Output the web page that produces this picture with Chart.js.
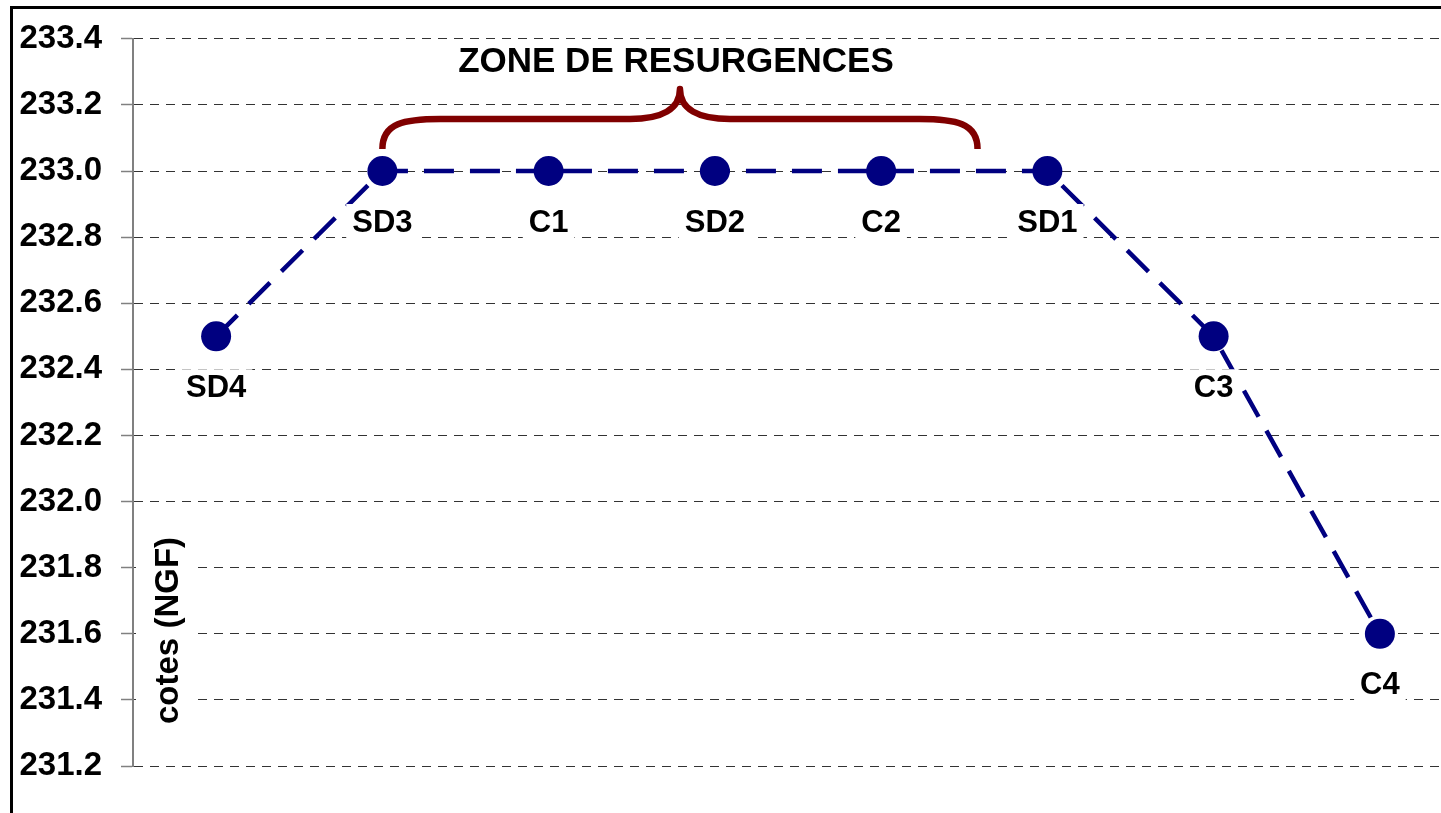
<!DOCTYPE html>
<html>
<head>
<meta charset="utf-8">
<script src="https://cdn.jsdelivr.net/npm/chart.js@4/dist/chart.umd.min.js"></script>
<style>
  html, body { margin: 0; padding: 0; background: #fff; overflow: hidden; }
  #wrap { position: relative; width: 1480px; height: 813px; }
</style>
</head>
<body>
<div id="wrap"><canvas id="c"></canvas></div>
<script>
const categories = ['SD4', 'SD3', 'C1', 'SD2', 'C2', 'SD1', 'C3', 'C4'];
const cotes = [232.5, 233.0, 233.0, 233.0, 233.0, 233.0, 232.5, 231.6];
const yTicks = [231.2, 231.4, 231.6, 231.8, 232.0, 232.2, 232.4, 232.6, 232.8, 233.0, 233.2, 233.4];
const zoneTitle = 'ZONE DE RESURGENCES';
const axisTitle = 'cotes (NGF)';
const braceFrom = 1;      // category index where the brace starts (SD3)
const braceTo = 4.58;     // category position where the brace ends (between C2 and SD1)

const FONT = '"Liberation Sans", Arial, sans-serif';

const decorPlugin = {
  id: 'decor',
  afterDatasetsDraw(chart) {
    const { ctx, chartArea, scales: { x, y } } = chart;
    ctx.save();

    // y axis title with white background
    const ax = chartArea.left + 36;
    const ay = y.getPixelForValue(231.61);
    ctx.fillStyle = '#ffffff';
    ctx.fillRect(chartArea.left + 3, ay - 108, 62, 216);
    ctx.save();
    ctx.translate(ax, ay);
    ctx.rotate(-Math.PI / 2);
    ctx.font = 'bold 33px ' + FONT;
    ctx.fillStyle = '#000000';
    ctx.textAlign = 'center';
    ctx.textBaseline = 'middle';
    ctx.fillText(axisTitle, 0, 0);
    ctx.restore();

    // point labels
    const meta = chart.getDatasetMeta(0);
    ctx.font = 'bold 31px ' + FONT;
    ctx.textAlign = 'center';
    ctx.textBaseline = 'middle';
    meta.data.forEach((pt, i) => {
      const txt = categories[i];
      const w = ctx.measureText(txt).width;
      const lx = pt.x, ly = pt.y + 52;
      ctx.fillStyle = '#ffffff';
      ctx.fillRect(lx - w / 2 - 6, ly - 19, w + 12, 38);
      ctx.fillStyle = '#000000';
      ctx.fillText(txt, lx, ly);
    });

    // brace
    const step = x.getPixelForValue(1) - x.getPixelForValue(0);
    const x0 = x.getPixelForValue(braceFrom);
    const x1 = x.getPixelForValue(0) + braceTo * step;
    const base = y.getPixelForValue(233.0);
    const yTip = base - 22, yH = base - 52, yPeak = base - 82;
    const xm = (x0 + x1) / 2;
    ctx.strokeStyle = '#800000';
    ctx.lineWidth = 6.5;
    ctx.lineCap = 'butt';
    ctx.lineJoin = 'round';
    ctx.beginPath();
    ctx.moveTo(x0, yTip);
    ctx.bezierCurveTo(x0, yH + 4, x0 + 22, yH, x0 + 58, yH);
    ctx.lineTo(xm - 50, yH);
    ctx.bezierCurveTo(xm - 18, yH, xm, yH - 10, xm, yPeak);
    ctx.bezierCurveTo(xm, yH - 10, xm + 18, yH, xm + 50, yH);
    ctx.lineTo(x1 - 58, yH);
    ctx.bezierCurveTo(x1 - 22, yH, x1, yH + 4, x1, yTip);
    ctx.stroke();

    // zone title
    ctx.font = 'bold 35px ' + FONT;
    ctx.fillStyle = '#000000';
    ctx.textAlign = 'center';
    ctx.textBaseline = 'middle';
    ctx.fillText(zoneTitle, xm - 4, base - 109);

    ctx.restore();
  },
  afterDraw(chart) {
    const { ctx } = chart;
    ctx.save();
    ctx.strokeStyle = '#000000';
    ctx.lineWidth = 3;
    ctx.beginPath();
    ctx.moveTo(11.5, chart.height + 5);
    ctx.lineTo(11.5, 7.5);
    ctx.lineTo(chart.width + 5, 7.5);
    ctx.stroke();
    ctx.restore();
  }
};

new Chart(document.getElementById('c'), {
  type: 'line',
  data: {
    labels: categories,
    datasets: [{
      data: cotes,
      borderColor: '#000080',
      backgroundColor: '#000080',
      borderWidth: 4.5,
      borderDash: [30, 16],
      pointRadius: 15,
      pointHoverRadius: 15,
      pointBackgroundColor: '#000080',
      pointBorderColor: '#000080',
      pointBorderWidth: 0,
      tension: 0,
      fill: false
    }]
  },
  options: {
    responsive: true,
    maintainAspectRatio: false,
    animation: false,
    events: [],
    layout: { padding: { left: 0, top: 37, right: 17, bottom: 47 } },
    plugins: {
      legend: { display: false },
      tooltip: { enabled: false },
      title: { display: false }
    },
    scales: {
      x: {
        type: 'category',
        display: false,
        offset: true
      },
      y: {
        min: 231.2,
        max: 233.4,
        afterBuildTicks(scale) {
          scale.ticks = yTicks.map(v => ({ value: v }));
        },
        afterFit(scale) { scale.width = 133; },
        ticks: {
          padding: 19,
          color: '#000000',
          font: { family: FONT, size: 33, weight: 'bold' },
          callback: (v) => Number(v).toFixed(1)
        },
        grid: {
          color: '#333333',
          lineWidth: 1,
          tickLength: 12,
          tickColor: '#808080',
          tickWidth: 1.5,
          tickBorderDash: []
        },
        border: {
          display: true,
          color: '#808080',
          width: 2,
          dash: [9, 7]
        }
      }
    }
  },
  plugins: [decorPlugin]
});
</script>
</body>
</html>
